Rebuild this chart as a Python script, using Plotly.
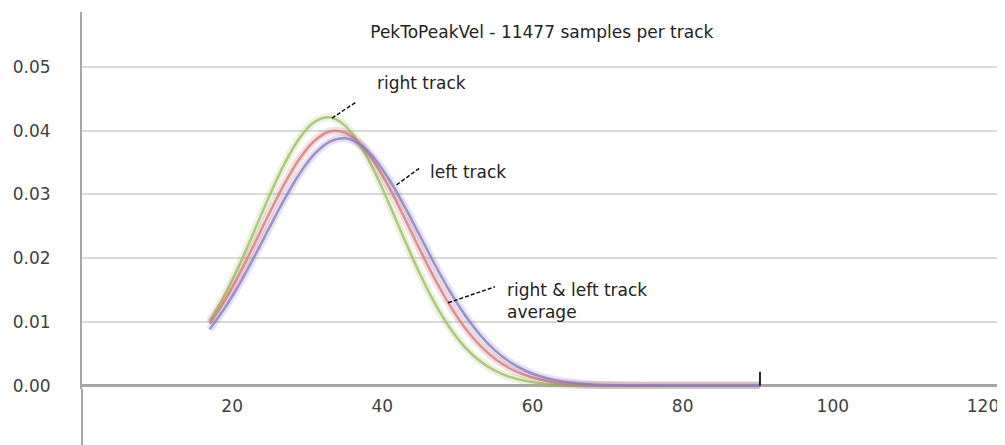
import plotly.graph_objects as go

# ---- data ----
x_vals = [17, 19, 21, 23, 25, 27, 29, 31, 33, 35, 37, 39, 41, 43, 45, 47, 49,
          51, 53, 55, 57, 59, 61, 63, 65, 68, 72, 78, 85, 90.3]

right_track = [0.01012, 0.01423, 0.01908, 0.02444, 0.02988, 0.03489, 0.03890,
               0.04140, 0.04208, 0.04083, 0.03783, 0.03347, 0.02827, 0.02280,
               0.01756, 0.01291, 0.00906, 0.00607, 0.00389, 0.00237, 0.00139,
               0.00077, 0.00041, 0.00021, 0.00010, 0.00003, 0.00001, 0.0, 0.0, 0.0]

average_track = [0.00976, 0.01338, 0.01763, 0.02232, 0.02716, 0.03174, 0.03565,
                 0.03846, 0.03987, 0.03971, 0.03800, 0.03494, 0.03087, 0.02620,
                 0.02136, 0.01674, 0.01260, 0.00911, 0.00633, 0.00423, 0.00271,
                 0.00167, 0.00099, 0.00056, 0.00031, 0.00012, 0.00003, 0.0, 0.0, 0.0]

left_track = [0.00886, 0.01214, 0.01602, 0.02035, 0.02490, 0.02934, 0.03329,
              0.03638, 0.03828, 0.03880, 0.03785, 0.03556, 0.03218, 0.02804,
              0.02353, 0.01902, 0.01480, 0.01109, 0.00801, 0.00556, 0.00372,
              0.00240, 0.00149, 0.00089, 0.00051, 0.00021, 0.00006, 0.00001, 0.0, 0.0]

end_marker_x = [90.3]
end_marker_y = [0.0]
end_marker_height = [0.0022]

x_ticks = [20, 40, 60, 80, 100, 120]
y_ticks = [0.00, 0.01, 0.02, 0.03, 0.04, 0.05]
y_tick_text = ["0.00", "0.01", "0.02", "0.03", "0.04", "0.05"]

title_text = "PekToPeakVel - 11477 samples per track"

FONT = "DejaVu Sans"

# page body adds an 8px margin, so the figure is sized/offset accordingly
FIG_W, FIG_H = 997, 437

series = [
    (right_track, "rgba(170,195,100,0.22)", "rgba(155,190,100,0.80)"),
    (average_track, "rgba(200,90,95,0.18)", "rgba(215,120,128,0.80)"),
    (left_track, "rgba(128,110,180,0.20)", "rgba(135,125,195,0.80)"),
]

fig = go.Figure()
for ys, glow, core in series:
    fig.add_trace(go.Scatter(x=x_vals, y=ys, mode="lines",
                             line=dict(color=glow, width=8, shape="spline"),
                             hoverinfo="skip", showlegend=False))
    fig.add_trace(go.Scatter(x=x_vals, y=ys, mode="lines",
                             line=dict(color=core, width=2.5, shape="spline"),
                             showlegend=False))

fig.add_trace(go.Scatter(
    x=end_marker_x, y=end_marker_y, mode="markers",
    marker=dict(size=1, color="rgba(0,0,0,0)"),
    error_y=dict(type="data", symmetric=False, array=end_marker_height,
                 arrayminus=[0], color="#111111", thickness=1.8, width=0),
    showlegend=False, hoverinfo="skip"))

line_style = dict(color="#111111", width=1.5, dash="4px,2px")
shapes = [
    dict(type="line", xref="x", yref="y", x0=33.3, y0=0.04196, x1=36.6, y1=0.04456, line=line_style),
    dict(type="line", xref="x", yref="y", x0=41.9, y0=0.03150, x1=45.0, y1=0.03417, line=line_style),
    dict(type="line", xref="x", yref="y", x0=48.75, y0=0.01301, x1=55.0, y1=0.01552, line=line_style),
    # extension of the vertical axis below the horizontal axis
    dict(type="line", xref="paper", yref="paper", x0=0, x1=0, y0=0, y1=-0.15,
         line=dict(color="#a6a6a6", width=2)),
]

ann_font = dict(family=FONT, size=17, color="#222222")
annotations = [
    dict(x=39.0, y=0.04749, xref="x", yref="y", text="right track", showarrow=False,
         xanchor="left", yanchor="middle", font=ann_font),
    dict(x=46.1, y=0.03354, xref="x", yref="y", text="left track", showarrow=False,
         xanchor="left", yanchor="middle", font=ann_font),
    dict(x=56.3, y=0.01324, xref="x", yref="y", text="right &amp; left track<br>average",
         showarrow=False, xanchor="left", yanchor="middle", align="left", font=ann_font),
]

fig.update_layout(
    width=FIG_W, height=FIG_H,
    margin=dict(l=74, r=7, t=4, b=56),
    paper_bgcolor="white", plot_bgcolor="white",
    title=dict(text=title_text, x=0.502, xref="paper", y=1 - 24 / FIG_H, yref="container",
               xanchor="center", yanchor="middle",
               font=dict(family=FONT, size=17, color="#222222")),
    font=dict(family=FONT, size=17, color="#404040"),
    showlegend=False,
    shapes=shapes,
    annotations=annotations,
    xaxis=dict(range=[0, 122], tickvals=x_ticks, showgrid=False, zeroline=False,
               showline=False, ticks="", ticklabelstandoff=5, automargin=False,
               tickfont=dict(family=FONT, size=17, color="#404040")),
    yaxis=dict(range=[-0.0005, 0.0586], tickvals=y_ticks, ticktext=y_tick_text,
               showgrid=True, gridcolor="#d9d9d9", gridwidth=2,
               zeroline=True, zerolinecolor="#a6a6a6", zerolinewidth=2.5,
               showline=True, linecolor="#a6a6a6", linewidth=2, ticks="",
               ticklabelstandoff=26, automargin=False,
               tickfont=dict(family=FONT, size=17, color="#404040")),
)

fig.write_html("out.html")
